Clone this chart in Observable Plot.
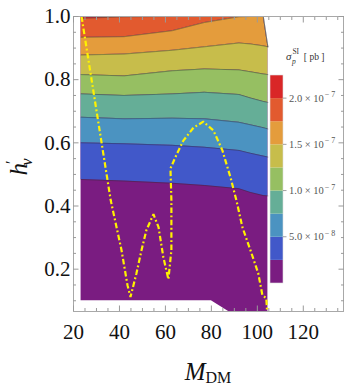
<!DOCTYPE html>
<html><head><meta charset="utf-8">
<script src="https://cdn.jsdelivr.net/npm/d3@7"></script>
<script src="https://cdn.jsdelivr.net/npm/@observablehq/plot@0.6"></script>
<style>
body{margin:0;background:#fff;}
#wrap{width:346px;height:388px;}
#wrap svg, #wrap svg text { font-family: "Liberation Serif", "Times New Roman", serif !important; }
</style></head><body><div id="wrap"></div>
<script>
// ---- data ----
const xGrid = [23.3, 42, 63, 77, 92, 97, 102.6, 104.6];
const topEdge = [1, 1, 1, 1, 1, 1, 1, 0.904];
const L1 = [0.484, 0.479, 0.472, 0.465, 0.455, 0.443, 0.433, 0.432];
const L2 = [0.600, 0.597, 0.592, 0.586, 0.576, 0.567, 0.558, 0.555];
const L3 = [0.681, 0.676, 0.678, 0.676, 0.665, 0.657, 0.648, 0.644];
const L4 = [0.755, 0.750, 0.755, 0.760, 0.753, 0.742, 0.731, 0.728];
const L5 = [0.816, 0.812, 0.828, 0.834, 0.831, 0.825, 0.818, 0.816];
const L6 = [0.878, 0.881, 0.893, 0.904, 0.916, 0.913, 0.907, 0.904];
const L7 = [0.934, 0.936, 0.955, 0.981, 0.999, 1, 1, 1];
const L8 = [0.994, 0.999, 1, 1, 1, 1, 1, 1];

const baseX = [23.3, 80, 91, 102.6, 104.6];
const baseLow = [0.1, 0.1, 0.05, 0.05, 0.05];
const baseTop = [1, 1, 1, 1, 0.904];

const curveX = [23.5, 36.2, 40.9, 43.5, 44.8, 47.4, 49.6, 51.7, 54.8, 57.0, 59.1, 61.3, 62.6, 62.6, 62.2, 64.3, 67.8, 72.2, 76.5, 80.9, 84.8, 88.3, 90.9, 93.5, 97.0, 100.4, 102.2, 103.9, 104.3];
const curveY = [1.0, 0.418, 0.260, 0.149, 0.112, 0.187, 0.260, 0.323, 0.374, 0.333, 0.238, 0.168, 0.26, 0.418, 0.519, 0.554, 0.607, 0.648, 0.667, 0.639, 0.576, 0.491, 0.418, 0.333, 0.260, 0.187, 0.118, 0.108, 0.06];

const bandColors = ["#7a1c81", "#4158c9", "#4b93c1", "#65ae97", "#96bf62", "#c7bd4b", "#e49c3c", "#e25a2f", "#d92627"];
const levels = [0, 2.5e-8, 5e-8, 7.5e-8, 1e-7, 1.25e-7, 1.5e-7, 1.75e-7, 2e-7, 2.25e-7];
const legendTickValues = [5e-8, 1e-7, 1.5e-7, 2e-7];
const legendTickMant = ["5.0", "1.0", "1.5", "2.0"];
const legendTickExp = ["\u2212 8", "\u2212 7", "\u2212 7", "\u2212 7"];

const xMajor = [20, 40, 60, 80, 100, 120];
const xMajorTicks = [20, 40, 60, 80, 100, 120];
const xMinor = [25,30,35,45,50,55,65,70,75,85,90,95,105,110,115,125,130,135];
const yMajor = [0.2, 0.4, 0.6, 0.8, 1.0];
const yMinor = [0.1,0.15,0.25,0.3,0.35,0.45,0.5,0.55,0.65,0.7,0.75,0.85,0.9,0.95];

const xDomain = [20, 137.5], yDomain = [0.066, 1.0];

// ---- build tables ----
const base = baseX.map((x, i) => ({x, lo: baseLow[i], hi: baseTop[i]}));
const bounds = [L1, L2, L3, L4, L5, L6, L7, L8, topEdge];
const bands = [];
for (let k = 0; k < 8; k++) {
  xGrid.forEach((x, i) => bands.push({band: k + 1, x,
    lo: Math.min(bounds[k][i], topEdge[i]), hi: Math.min(bounds[k + 1][i], topEdge[i])}));
}
const contours = [];
[L1, L2, L3, L4, L5, L6, L7, L8].forEach((L, k) => {
  xGrid.forEach((x, i) => contours.push({level: k, x, y: Math.min(L[i], topEdge[i])}));
});
const yellow = curveX.map((x, i) => ({x, y: curveY[i]}));

const tickGray = "#9a9a9a";
const font = "Liberation Serif, Times New Roman, serif";

const plot = Plot.plot({
  width: 346, height: 388,
  marginLeft: 73, marginRight: 3, marginTop: 16, marginBottom: 77,
  x: {domain: xDomain, axis: null},
  y: {domain: yDomain, axis: null},
  color: {type: "ordinal", domain: d3.range(9), range: bandColors},
  style: {fontFamily: font, background: "white", overflow: "visible"},
  marks: [
    Plot.areaY(base, {x: "x", y1: "lo", y2: "hi", fill: bandColors[0], clip: true}),
    Plot.areaY(bands, {x: "x", y1: "lo", y2: "hi", z: "band", fill: "band"}),
    Plot.line(contours, {x: "x", y: "y", z: "level", stroke: "#2a2a2a", strokeOpacity: 0.5, strokeWidth: 0.8}),
    Plot.line(yellow, {x: "x", y: "y", stroke: "#fff200", strokeWidth: 2.2, strokeLinecap: "butt", strokeLinejoin: "miter", strokeDasharray: "5.5,2.5,1.8,2.5", clip: true}),
    Plot.frame({stroke: "#a8a8a8"}),
    Plot.axisY(yMinor, {anchor: "left", tickSize: -3, fill: "none", stroke: tickGray, label: null}),
    Plot.axisY(yMajor, {anchor: "left", tickSize: -5.5, fill: "none", stroke: tickGray, label: null}),
    Plot.axisY(yMinor, {anchor: "right", tickSize: -3, fill: "none", stroke: tickGray, label: null}),
    Plot.axisY(yMajor, {anchor: "right", tickSize: -5.5, fill: "none", stroke: tickGray, label: null}),
    Plot.axisX(xMinor, {anchor: "bottom", tickSize: -3, fill: "none", stroke: tickGray, label: null}),
    Plot.axisX(xMajorTicks, {anchor: "bottom", tickSize: -5.5, fill: "none", stroke: tickGray, label: null}),
    Plot.axisX(xMinor, {anchor: "top", tickSize: -3, fill: "none", stroke: tickGray, label: null}),
    Plot.axisX(xMajorTicks, {anchor: "top", tickSize: -5.5, fill: "none", stroke: tickGray, label: null}),
    Plot.axisY(yMajor, {anchor: "left", tickSize: 0, tickPadding: 3, tickFormat: d3.format(".1f"), fontSize: 21, fill: "#111", label: null}),
    Plot.axisX(xMajor, {anchor: "bottom", tickSize: 0, tickPadding: 13, fontSize: 21, fill: "#111", label: null})
  ]
});
document.getElementById("wrap").appendChild(plot);

// ---- axis titles and legend ----
const svg = d3.select(plot);
const yt = svg.append("text")
  .attr("transform", "translate(27,167) rotate(-90)")
  .attr("text-anchor", "middle").attr("font-family", font).attr("fill", "#111");
yt.append("tspan").attr("font-style", "italic").attr("font-size", 25).text("h");
yt.append("tspan").attr("font-size", 16).attr("dx", -1).attr("dy", -10).text("\u2032");
yt.append("tspan").attr("font-size", 16).attr("font-style", "italic").attr("dx", -5).attr("dy", 15).text("\u03bd");

const xt = svg.append("text")
  .attr("x", 208).attr("y", 380).attr("text-anchor", "middle")
  .attr("font-family", font).attr("fill", "#111");
xt.append("tspan").attr("font-style", "italic").attr("font-size", 25).text("M");
xt.append("tspan").attr("font-size", 16).attr("dy", 3).text("DM");

const lg = svg.append("g").attr("text-anchor", "start");
const ly = d3.scaleLinear().domain([levels[0], levels[levels.length - 1]]).range([283, 75]);
for (let k = 0; k < bandColors.length; k++) {
  lg.append("rect").attr("x", 270).attr("width", 13)
    .attr("y", ly(levels[k + 1])).attr("height", ly(levels[k]) - ly(levels[k + 1]))
    .attr("fill", bandColors[k]);
}
lg.append("rect").attr("x", 270).attr("width", 13).attr("y", 75).attr("height", 208)
  .attr("fill", "none").attr("stroke", "#ddd").attr("stroke-width", 0.6);
legendTickValues.forEach((v, i) => {
  const y = ly(v);
  lg.append("line").attr("x1", 283).attr("x2", 286.5).attr("y1", y).attr("y2", y).attr("stroke", "#777").attr("stroke-width", 0.7);
  const t = lg.append("text").attr("x", 289).attr("y", y + 3.5).attr("text-anchor", "start")
    .attr("font-family", font).attr("font-size", 10.5).attr("fill", "#555");
  t.append("tspan").text(legendTickMant[i] + " \u00d7 10");
  t.append("tspan").attr("font-size", 8).attr("dy", -4.5).attr("dx", 1).text(legendTickExp[i]);
});
const lt = lg.append("text").attr("x", 286).attr("y", 60).attr("text-anchor", "start")
  .attr("font-family", font).attr("font-size", 11).attr("fill", "#333");
lt.append("tspan").attr("font-style", "italic").text("\u03c3");
lt.append("tspan").attr("font-size", 7.5).attr("dx", 1).attr("dy", -6).text("SI");
lt.append("tspan").attr("font-size", 7.5).attr("font-style", "italic").attr("dx", -7).attr("dy", 10).text("p");
lt.append("tspan").attr("font-size", 9.5).attr("dx", 8).attr("dy", -4).text("[ pb ]");
</script>
</body></html>
